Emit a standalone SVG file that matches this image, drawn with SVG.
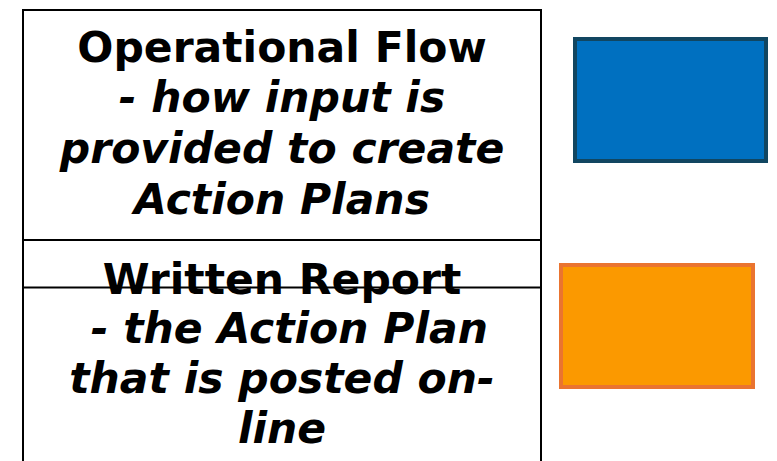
<svg xmlns="http://www.w3.org/2000/svg" width="777" height="461" viewBox="0 0 777 461">
<style>
.box{fill:#fff;stroke:#000;stroke-width:2}
.t{font-family:"DejaVu Sans",Verdana,sans-serif;font-size:42.5px;font-weight:bold;text-anchor:middle;fill:#000}
.i{font-style:italic}
</style>
<rect width="777" height="461" fill="#fff"/>
<g id="operational-flow">
<rect class="box" x="23" y="10" width="518" height="230"/>
<text class="t" x="282" y="62">Operational Flow</text>
<text class="t i" x="282" y="112">- how input is</text>
<text class="t i" x="282" y="163">provided to create</text>
<text class="t i" x="282" y="214">Action Plans</text>
</g>
<g id="written-report">
<rect class="box" x="23" y="240" width="518" height="240"/>
<text class="t" x="282" y="293.5">Written Report</text>
<line x1="23" y1="287.5" x2="541" y2="287.5" stroke="#000" stroke-width="1.8"/>
<text class="t i" x="282" y="343" xml:space="preserve"> - the Action Plan</text>
<text class="t i" x="282" y="393">that is posted on-</text>
<text class="t i" x="282" y="443">line</text>
</g>
<g id="blue-node">
<rect x="575" y="39" width="191" height="122" fill="#0070C0" stroke="#114661" stroke-width="4"/>
</g>
<g id="orange-node">
<rect x="561" y="265" width="192" height="122" fill="#FB9900" stroke="#EA7430" stroke-width="4"/>
</g>
<g id="connectors"></g>
</svg>
